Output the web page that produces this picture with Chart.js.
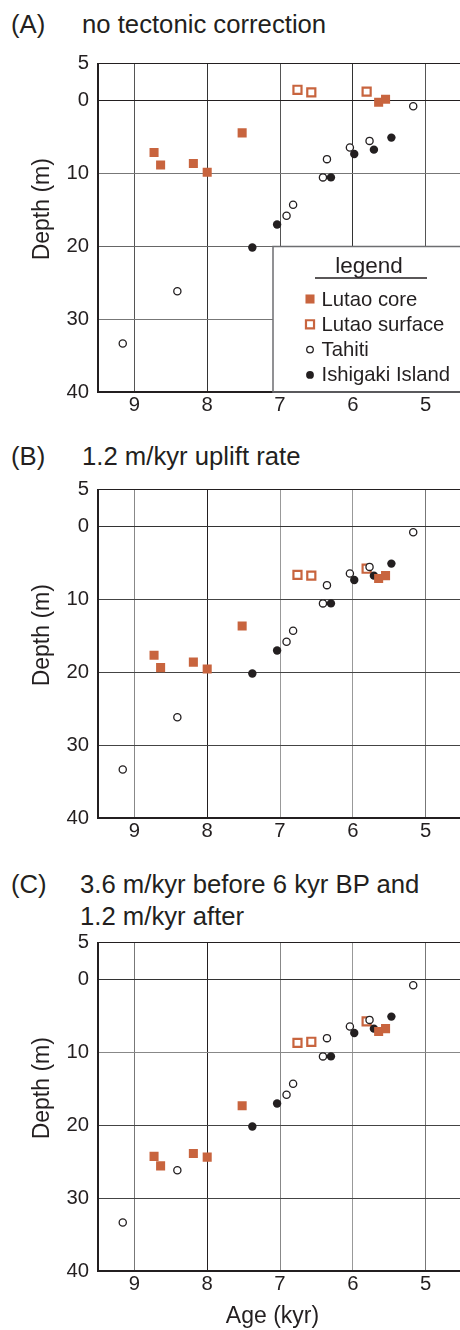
<!DOCTYPE html>
<html><head><meta charset="utf-8">
<script src="https://cdn.jsdelivr.net/npm/chart.js@4.4.1/dist/chart.umd.min.js"></script>
<style>
html,body{margin:0;padding:0;background:#fff;}
body{width:460px;height:1330px;overflow:hidden;position:relative;font-family:"Liberation Sans",Arial,Helvetica,sans-serif;color:#231f20;}
.t{position:absolute;font-size:25.7px;line-height:32px;white-space:nowrap;}
canvas{position:absolute;left:0;}
</style></head><body>
<div class="t" style="left:11px;top:8px">(A)</div>
<div class="t" style="left:82px;top:8px">no tectonic correction</div>
<div class="t" style="left:11px;top:440px">(B)</div>
<div class="t" style="left:82px;top:440px">1.2 m/kyr uplift rate</div>
<div class="t" style="left:11px;top:868px">(C)</div>
<div class="t" style="left:80px;top:868px">3.6 m/kyr before 6 kyr BP and<br>1.2 m/kyr after</div>
<canvas id="cA" width="470" height="375" style="top:50px"></canvas>
<canvas id="cB" width="470" height="375" style="top:476px"></canvas>
<canvas id="cC" width="470" height="401" style="top:929px"></canvas>
<script>
// ---- data ----
const ageTicks = [9, 8, 7, 6, 5];
const depthTicks = [-5, 0, 10, 20, 30, 40];
const depthTickLabels = ['5', '0', '10', '20', '30', '40'];
const seriesNames = ['Lutao core', 'Lutao surface', 'Tahiti', 'Ishigaki Island'];

const tahitiAge   = [5.17, 5.77, 6.04, 6.355, 6.41, 6.82, 6.91, 8.41, 9.16];
const tahitiDepth = [0.85, 5.6, 6.5, 8.1, 10.6, 14.35, 15.85, 26.2, 33.35];
const ishigakiAge   = [5.47, 5.71, 5.98, 6.30, 7.04, 7.38];
const ishigakiDepth = [5.15, 6.8, 7.4, 10.6, 17.05, 20.2];
const lutaoCoreAge    = [8.73, 8.64, 8.19, 8.0, 7.52, 5.645, 5.55];
const lutaoCoreDepthA = [7.2, 8.9, 8.7, 9.9, 4.5, 0.3, -0.1];
const lutaoCoreDepthB = [17.7, 19.4, 18.65, 19.6, 13.7, 7.2, 6.8];
const lutaoCoreDepthC = [24.3, 25.6, 23.9, 24.4, 17.35, 7.2, 6.8];
const lutaoSurfaceAge    = [6.76, 6.57, 5.81];
const lutaoSurfaceDepthA = [-1.4, -1.05, -1.15];
const lutaoSurfaceDepthB = [6.7, 6.8, 5.85];
const lutaoSurfaceDepthC = [8.75, 8.6, 5.8];

// ---- styles ----
const INK = '#231f20';
const ORANGE = '#c8643e';
const FONT = '"Liberation Sans", Arial, Helvetica, sans-serif';

function pts(xs, ys) { return xs.map((x, i) => ({x: x, y: ys[i]})); }

const axisTitles = {
  id: 'axisTitles',
  afterDraw(chart, args, o) {
    const ctx = chart.ctx, ca = chart.chartArea;
    ctx.save();
    ctx.fillStyle = INK;
    ctx.font = '23px ' + FONT;
    ctx.textAlign = 'center';
    ctx.textBaseline = 'alphabetic';
    ctx.translate(48.5, (ca.top + ca.bottom) / 2 - 18.5);
    ctx.rotate(-Math.PI / 2);
    ctx.fillText(o.yTitle, 0, 0);
    ctx.restore();
    if (o.xTitle) {
      ctx.save();
      ctx.fillStyle = INK;
      ctx.font = '23px ' + FONT;
      ctx.textAlign = 'center';
      ctx.textBaseline = 'alphabetic';
      ctx.fillText(o.xTitle, 272.5, ca.bottom + 52);
      ctx.restore();
    }
  }
};

function drawMarker(ctx, ds, x, y) {
  ctx.save();
  ctx.beginPath();
  if (ds.pointStyle === 'rect') {
    const s = Math.SQRT1_2 * ds.pointRadius;
    ctx.rect(x - s, y - s, 2 * s, 2 * s);
  } else {
    ctx.arc(x, y, ds.pointRadius - 0.3, 0, Math.PI * 2);
  }
  ctx.fillStyle = ds.backgroundColor;
  ctx.fill();
  if (ds.borderWidth) {
    ctx.lineWidth = ds.borderWidth;
    ctx.strokeStyle = ds.borderColor;
    ctx.stroke();
  }
  ctx.restore();
}

const boxLegend = {
  id: 'boxLegend',
  afterDatasetsDraw(chart, args, o) {
    if (!o.show) return;
    const ctx = chart.ctx, ca = chart.chartArea;
    const left = 273, top = chart.scales.y.getPixelForValue(20) + 0.5;
    ctx.save();
    ctx.fillStyle = '#fff';
    ctx.fillRect(left, top, 220, ca.bottom - 1 - top);
    ctx.strokeStyle = '#6d6e71';
    ctx.lineWidth = 1.5;
    ctx.strokeRect(left, top, 220, ca.bottom - top);
    ctx.fillStyle = INK;
    ctx.font = '22.5px ' + FONT;
    ctx.textAlign = 'center';
    ctx.textBaseline = 'alphabetic';
    ctx.fillText('legend', 369, top + 26.5);
    ctx.strokeStyle = INK;
    ctx.lineWidth = 1.3;
    ctx.beginPath();
    ctx.moveTo(315, top + 31.5);
    ctx.lineTo(427, top + 31.5);
    ctx.stroke();
    ctx.font = '20.3px ' + FONT;
    ctx.textAlign = 'left';
    chart.data.datasets.forEach((ds, i) => {
      const y = top + 52.5 + i * 25.3;
      drawMarker(ctx, ds, 310, y);
      ctx.fillStyle = INK;
      ctx.fillText(ds.label, 321.5, y + 6.5);
    });
    ctx.restore();
  }
};

function makeChart(id, coreDepth, surfDepth, gridX, gridY, opts) {
  const datasets = [
    {label: seriesNames[0], data: pts(lutaoCoreAge, coreDepth), pointStyle: 'rect', pointRadius: 6.4,
     backgroundColor: ORANGE, borderColor: ORANGE, borderWidth: 0, order: 0},
    {label: seriesNames[1], data: pts(lutaoSurfaceAge, surfDepth), pointStyle: 'rect', pointRadius: 5.7,
     backgroundColor: '#ffffff', borderColor: ORANGE, borderWidth: 2.2, order: 3},
    {label: seriesNames[2], data: pts(tahitiAge, tahitiDepth), pointStyle: 'circle', pointRadius: 3.6,
     backgroundColor: '#ffffff', borderColor: INK, borderWidth: 1.3, order: 1},
    {label: seriesNames[3], data: pts(ishigakiAge, ishigakiDepth), pointStyle: 'circle', pointRadius: 4.2,
     backgroundColor: INK, borderColor: INK, borderWidth: 0, order: 2}
  ];
  datasets.forEach(d => { d.pointHoverRadius = d.pointRadius; d.showLine = false; });
  return new Chart(document.getElementById(id), {
    type: 'scatter',
    data: {datasets: datasets},
    plugins: [axisTitles, boxLegend],
    options: {
      responsive: false,
      animation: false,
      events: [],
      layout: {padding: {top: 13.5, right: 8, left: 0, bottom: opts.bottomPad || 0}},
      plugins: {
        legend: {display: false},
        tooltip: {enabled: false},
        axisTitles: {yTitle: 'Depth (m)', xTitle: opts.xTitle || null},
        boxLegend: {show: !!opts.legend}
      },
      scales: {
        x: {
          type: 'linear', reverse: true, min: 4.5, max: 9.5,
          afterBuildTicks: s => { s.ticks = ageTicks.map(v => ({value: v})); },
          afterFit: s => { s.height = 33; s.paddingLeft = 0; s.paddingRight = 0; },
          ticks: {color: INK, font: {family: FONT, size: 20.3}, padding: 1, autoSkip: false, maxRotation: 0,
                  callback: v => String(v)},
          grid: {drawTicks: false, lineWidth: 1, color: c => gridX[ageTicks.indexOf(c.tick ? c.tick.value : 0)] || '#666'},
          border: {display: true, color: INK, width: 2}
        },
        y: {
          type: 'linear', reverse: true, min: -5, max: 40,
          afterBuildTicks: s => { s.ticks = depthTicks.map(v => ({value: v})); },
          afterFit: s => { s.width = 98; s.paddingTop = 0; s.paddingBottom = 0; },
          ticks: {color: INK, font: {family: FONT, size: 20.3}, padding: 9, autoSkip: false,
                  callback: (v, i) => depthTickLabels[i]},
          grid: {drawTicks: false, lineWidth: 1, color: c => gridY[depthTicks.indexOf(c.tick ? c.tick.value : 0)] || '#666'},
          border: {display: true, color: INK, width: 2}
        }
      }
    }
  });
}

makeChart('cA', lutaoCoreDepthA, lutaoSurfaceDepthA,
  ['#555', '#333', '#555', '#333', '#555'], ['#231f20', '#231f20', '#777', '#666', '#777', INK], {legend: true});
makeChart('cB', lutaoCoreDepthB, lutaoSurfaceDepthB,
  ['#888', '#231f20', '#999', '#999', '#777'], ['#231f20', '#333', '#444', '#444', '#444', INK], {});
makeChart('cC', lutaoCoreDepthC, lutaoSurfaceDepthC,
  ['#777', '#231f20', '#888', '#999', '#777'], ['#231f20', '#333', '#888', '#444', '#444', INK], {xTitle: 'Age (kyr)', bottomPad: 26});
</script>
</body></html>
